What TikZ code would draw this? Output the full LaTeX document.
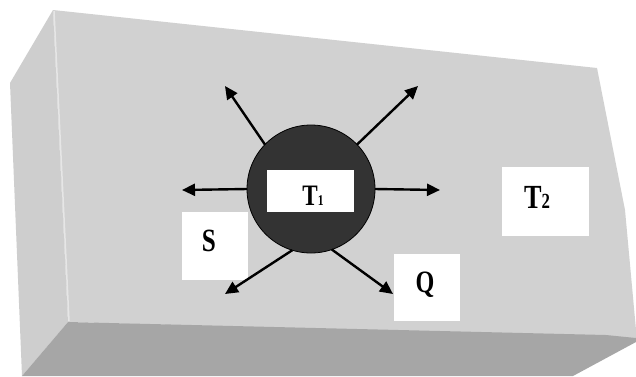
\documentclass[tikz,border=0pt]{standalone}
\usepackage{fontspec}
\usepackage{graphicx}
\setmainfont{Liberation Serif}
\usetikzlibrary{arrows.meta}

\definecolor{frontgray}{HTML}{D1D1D1}
\definecolor{sidegray}{HTML}{CECECE}
\definecolor{bottomgray}{HTML}{A6A6A6}
\definecolor{edgelight}{HTML}{E6E6E6}
\definecolor{balldark}{HTML}{333333}

% glyphs are set taller than wide
\newcommand\stretched[1]{\scalebox{1.05}[1.35]{#1}}

\tikzset{
  ball/.style={circle, fill=balldark, draw=black, line width=0.8pt,
    minimum size=128pt, inner sep=0pt, outer sep=0pt},
  whitebox/.style={rectangle, fill=white, inner sep=0pt, outer sep=0pt},
  lbl/.style={inner sep=0pt, font=\bfseries},
  flow/.style={line width=2.4pt, -{Triangle[length=13pt,width=12pt]}},
}

\begin{document}
\begin{tikzpicture}[x=1pt, y=-1pt]
\useasboundingbox (0,0) rectangle (636,376);
\fill[white] (0,0) rectangle (636,376);

% slab: left face, front face, bottom face
\fill[sidegray] (53,10) -- (10,83) -- (22,376) -- (68,322) -- cycle;
\fill[frontgray] (53,10) -- (597,68) -- (625,210) -- (636,330)
  -- (636,338) -- (68,322) -- cycle;
\fill[bottomgray] (68,322) -- (316,328) -- (606,335) -- (636,338)
  -- (636,342) -- (573,376) -- (22,376) -- cycle;
\draw[edgelight, line width=1.5pt] (54,11) -- (69,321);

% central body
\node[ball] (ball) at (311,189) {};
\node[whitebox, minimum width=87pt, minimum height=42pt] (t1box) at (310.5,191) {};
\node[lbl] (t1) at (313,196)
  {\stretched{\fontsize{22}{22}\selectfont T\fontsize{11}{11}\selectfont 1}};

% surrounding label boxes
\node[whitebox, minimum width=66pt, minimum height=68pt] (sbox) at (215,246) {};
\node[lbl] (s) at (209,241) {\stretched{\fontsize{24}{24}\selectfont S}};

\node[whitebox, minimum width=66pt, minimum height=67pt] (qbox) at (427,287.5) {};
\node[lbl] (q) at (425,285) {\stretched{\fontsize{23}{23}\selectfont Q}};

\node[whitebox, minimum width=87pt, minimum height=69pt] (t2box) at (545.5,201.5) {};
\node[lbl] (t2) at (537,197)
  {\stretched{\fontsize{25}{25}\selectfont T\fontsize{16}{16}\selectfont 2}};

% outward flow arrows
\coordinate (tipW)  at (182,190);
\coordinate (tipE)  at (440,190);
\coordinate (tipNW) at (225,86);
\coordinate (tipNE) at (418,86);
\coordinate (tipSW) at (225,294);
\coordinate (tipSE) at (393,294);

\draw[flow] (ball.180) -- (tipW);
\draw[flow] (ball.0)   -- (tipE);
\draw[flow] (ball.136) -- (tipNW);
\draw[flow] (ball.44)  -- (tipNE);
\draw[flow] (ball.253) -- (tipSW);
\draw[flow] (ball.289) -- (tipSE);
\end{tikzpicture}
\end{document}
